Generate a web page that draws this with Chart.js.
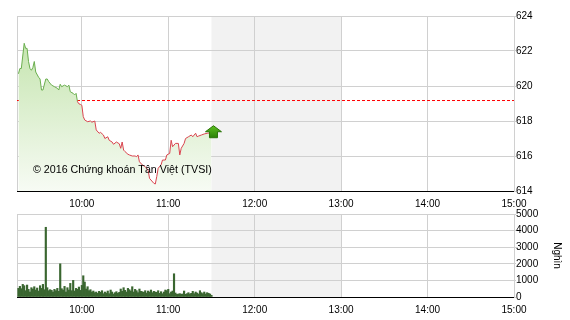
<!DOCTYPE html>
<html><head><meta charset="utf-8">
<script src="https://cdn.jsdelivr.net/npm/chart.js@4/dist/chart.umd.min.js"></script>
<style>
html,body{margin:0;padding:0;background:#fff;}
#wrap{position:relative;width:570px;height:320px;overflow:hidden;}
canvas{position:absolute;left:0;}
#c1{top:0;}
#c2{top:205px;}
</style></head><body>
<div id="wrap">
<canvas id="c1" width="570" height="210"></canvas>
<canvas id="c2" width="570" height="115"></canvas>
</div>
<script>
const priceTimes = ['9:16','9:17','9:18','9:20','9:21','9:22','9:23','9:24','9:25','9:26','9:27','9:28','9:30','9:31','9:32','9:33','9:35','9:36','9:37','9:39','9:41','9:43','9:44','9:45','9:46','9:48','9:50','9:51','9:52','9:54','9:55','9:56','9:57','9:58','9:59','10:00','10:01','10:02','10:04','10:06','10:07','10:09','10:10','10:12','10:13','10:15','10:16','10:18','10:19','10:21','10:22','10:24','10:26','10:27','10:28','10:29','10:30','10:32','10:33','10:35','10:37','10:38','10:39','10:40','10:42','10:44','10:46','10:47','10:50','10:51','10:52','10:53','10:55','10:56','10:58','10:59','11:01','11:02','11:03','11:05','11:07','11:08','11:09','11:11','11:12','11:14','11:16','11:17','11:19','11:20','11:21','11:23','11:25','11:27','11:30'];
const priceValues = [620.7,621.0,621.0,622.44,622.15,622.15,621.4,621.0,620.9,621.05,621.4,620.8,620.5,620.4,619.77,619.77,620.4,620.4,620.25,620.05,619.96,619.87,619.77,620.1,619.96,620.05,619.96,620.05,619.67,619.58,619.49,619.58,619.1,618.98,618.95,618.9,618.25,618.06,617.96,618.0,617.93,618.0,617.49,617.3,617.35,617.2,617.0,617.1,616.9,616.8,616.67,616.8,616.7,616.44,616.8,616.34,616.25,616.1,616.06,616.0,616.0,615.96,616.06,615.67,615.49,615.39,615.2,614.72,614.44,614.4,614.82,615.3,615.49,615.77,615.77,616.06,616.15,616.9,616.53,616.72,616.72,616.06,616.44,616.72,617.0,617.1,617.2,617.1,617.3,617.1,617.14,617.2,617.26,617.3,617.33];
const refPrice = 619.17;

const volumeTimes = ['9:16','9:17','9:18','9:19','9:20','9:21','9:22','9:23','9:24','9:25','9:26','9:27','9:28','9:29','9:30','9:31','9:32','9:33','9:34','9:35','9:36','9:37','9:38','9:39','9:40','9:41','9:42','9:43','9:44','9:45','9:46','9:47','9:48','9:49','9:50','9:51','9:52','9:53','9:54','9:55','9:56','9:57','9:58','9:59','10:00','10:01','10:02','10:03','10:04','10:05','10:06','10:07','10:08','10:09','10:10','10:11','10:12','10:13','10:14','10:15','10:16','10:17','10:18','10:19','10:20','10:21','10:22','10:23','10:24','10:25','10:26','10:27','10:28','10:29','10:30','10:31','10:32','10:33','10:34','10:35','10:36','10:37','10:38','10:39','10:40','10:41','10:42','10:43','10:44','10:45','10:46','10:47','10:48','10:49','10:50','10:51','10:52','10:53','10:54','10:55','10:56','10:57','10:58','10:59','11:00','11:01','11:02','11:03','11:04','11:05','11:06','11:07','11:08','11:09','11:10','11:11','11:12','11:13','11:14','11:15','11:16','11:17','11:18','11:19','11:20','11:21','11:22','11:23','11:24','11:25','11:26','11:27','11:28','11:29','11:30'];
const volumeValues = [520,640,500,760,680,380,720,460,300,560,480,620,420,540,360,680,520,760,440,4200,560,380,440,400,300,460,380,520,340,2000,500,420,640,300,560,420,820,380,1000,360,520,460,600,400,700,1280,900,480,620,380,440,300,360,260,300,220,340,280,380,200,300,240,360,200,420,300,180,260,320,220,280,480,340,560,400,300,520,440,360,620,300,460,380,260,480,340,320,280,380,240,360,300,420,260,340,300,280,380,220,320,200,300,420,380,460,200,300,360,1400,240,160,180,200,170,180,360,160,200,260,180,220,340,200,300,240,180,380,260,200,300,180,260,220,180,100];

const hourTicks = ['9:15','10:00','11:00','12:00','13:00','14:00','15:00'];
const hourLabels = ['','10:00','11:00','12:00','13:00','14:00','15:00'];
const breakStart = '11:30', breakEnd = '13:00';
const priceTicks = [614,616,618,620,622,624];
const volumeTicks = [0,1000,2000,3000,4000,5000];
const copyrightText = '© 2016 Chứng khoán Tân Việt (TVSI)';
const volumeUnit = 'Nghìn';

const FONT = '"Liberation Sans", Arial, sans-serif';
const GRID = '#d0d0d0';
function toMin(s){const p=s.split(':').map(Number);return p[0]*60+p[1];}

function xScale(h){
  return {
    type:'linear', min:toMin(hourTicks[0]), max:toMin(hourTicks[hourTicks.length-1]),
    offset:false,
    afterBuildTicks:s=>{s.ticks=hourTicks.map(t=>({value:toMin(t)}));},
    ticks:{autoSkip:false,maxRotation:0,padding:7,color:'#000',font:{family:FONT,size:10},
      callback:(v,i)=>hourLabels[i]},
    grid:{color:GRID,drawTicks:false,offset:false},
    border:{display:true,color:'#000',width:1},
    afterFit:s=>{s.height=h;}
  };
}
function yScale(min,max,ticks,extra){
  return Object.assign({
    position:'right',min:min,max:max,
    afterBuildTicks:s=>{s.ticks=ticks.map(v=>({value:v}));},
    ticks:{color:'#000',font:{family:FONT,size:10},padding:0,callback:v=>String(v)},
    grid:{color:GRID,tickLength:2},
    border:{color:GRID},
    afterFit:s=>{s.width=56;}
  },extra||{});
}
const bandPlugin={id:'band',beforeDraw(chart){
  const a=chart.chartArea,x=chart.scales.x,ctx=chart.ctx;
  const x0=x.getPixelForValue(toMin(breakStart)),x1=x.getPixelForValue(toMin(breakEnd));
  ctx.save();ctx.fillStyle='#f2f2f2';ctx.fillRect(x0,a.top,x1-x0,a.bottom-a.top);ctx.restore();
}};
const decoPlugin={id:'deco',
  afterDatasetsDraw(chart){
    const ctx=chart.ctx;ctx.save();
    ctx.font='10.7px '+FONT;ctx.fillStyle='#000';ctx.textBaseline='alphabetic';
    ctx.fillText(copyrightText,33,173);ctx.restore();
    const meta=chart.getDatasetMeta(0);const p=meta.data[meta.data.length-1];
    const cx=p.x+2,ty=p.y-7;ctx.save();
    const g=ctx.createLinearGradient(0,ty,0,ty+12);g.addColorStop(0,'#5cc01e');g.addColorStop(1,'#2a8006');
    ctx.beginPath();
    ctx.moveTo(cx,ty);ctx.lineTo(cx+8,ty+6);ctx.lineTo(cx+4,ty+6);ctx.lineTo(cx+4,ty+12);
    ctx.lineTo(cx-4,ty+12);ctx.lineTo(cx-4,ty+6);ctx.lineTo(cx-8,ty+6);ctx.closePath();
    ctx.fillStyle=g;ctx.fill();ctx.strokeStyle='#2a7408';ctx.lineWidth=1;ctx.stroke();ctx.restore();
  }
};

new Chart(document.getElementById('c1'),{
  type:'line',
  data:{datasets:[
    {data:priceTimes.map((t,i)=>({x:toMin(t),y:priceValues[i]})),
     borderWidth:1,pointRadius:0,tension:0,fill:'start',
     borderColor:(c)=>{const ch=c.chart,a=ch.chartArea;if(!a)return '#6aae4e';
       const y=ch.scales.y.getPixelForValue(refPrice);const f=Math.min(1,Math.max(0,(y-a.top)/(a.bottom-a.top)));
       const g=ch.ctx.createLinearGradient(0,a.top,0,a.bottom);
       g.addColorStop(0,'#6aae4e');g.addColorStop(f,'#6aae4e');g.addColorStop(f,'#d9444f');g.addColorStop(1,'#d9444f');return g;},
     backgroundColor:(c)=>{const ch=c.chart,a=ch.chartArea;if(!a)return '#e0f0d6';
       const g=ch.ctx.createLinearGradient(0,a.top,0,a.bottom);g.addColorStop(0,'#bde1a4');g.addColorStop(1,'#f7fbf4');return g;}},
    {data:[{x:toMin(hourTicks[0]),y:refPrice},{x:toMin(hourTicks[hourTicks.length-1]),y:refPrice}],
     borderColor:'#ff0000',borderWidth:1,borderDash:[3,2],pointRadius:0,fill:false}
  ]},
  options:{responsive:false,animation:false,devicePixelRatio:1,
    layout:{padding:{left:17,top:16,right:0,bottom:0}},
    plugins:{legend:{display:false},tooltip:{enabled:false}},
    scales:{x:xScale(19),y:yScale(614,624,priceTicks)}},
  plugins:[bandPlugin,decoPlugin]
});

new Chart(document.getElementById('c2'),{
  type:'bar',
  data:{datasets:[{data:volumeTimes.map((t,i)=>({x:toMin(t),y:volumeValues[i]})),
    backgroundColor:'#3a6630',barThickness:1.5,grouped:false}]},
  options:{responsive:false,animation:false,devicePixelRatio:1,
    layout:{padding:{left:17,top:9,right:0,bottom:0}},
    plugins:{legend:{display:false},tooltip:{enabled:false}},
    scales:{x:xScale(23),y:yScale(0,5000,volumeTicks,{title:{display:true,text:volumeUnit,color:'#000',font:{family:FONT,size:10},padding:{top:7,bottom:0}}})}},
  plugins:[bandPlugin]
});
</script>
</body></html>
